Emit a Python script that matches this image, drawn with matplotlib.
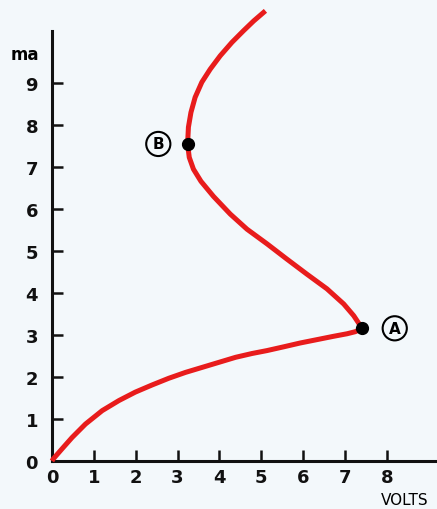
import matplotlib
matplotlib.use("Agg")
import matplotlib.pyplot as plt

# Data (volts, milliamps)
volts = [0.0, 0.03, 0.24, 0.48, 0.80, 1.20, 1.60, 1.99, 2.39, 2.79, 3.19, 3.59,
         3.99, 4.39, 4.78, 5.14, 5.54, 5.93, 6.33, 6.73, 7.05, 7.25, 7.41,
         7.37, 7.21, 6.97, 6.57, 6.09, 5.61, 5.14, 4.66, 4.26, 3.86, 3.56,
         3.38, 3.28, 3.24, 3.26, 3.32, 3.42, 3.58, 3.78, 4.02, 4.30, 4.58,
         4.82, 5.10]
milliamps = [0.0, 0.05, 0.29, 0.56, 0.88, 1.20, 1.44, 1.64, 1.81, 1.97, 2.11, 2.23,
             2.35, 2.47, 2.56, 2.63, 2.72, 2.81, 2.89, 2.97, 3.03, 3.08, 3.16,
             3.22, 3.46, 3.74, 4.10, 4.45, 4.81, 5.17, 5.52, 5.88, 6.30, 6.66,
             6.95, 7.23, 7.55, 7.95, 8.30, 8.66, 9.02, 9.33, 9.65, 9.97, 10.25,
             10.48, 10.72]
point_a = (7.41, 3.16)
point_b = (3.24, 7.55)
x_ticks = [0, 1, 2, 3, 4, 5, 6, 7, 8]
y_ticks = [0, 1, 2, 3, 4, 5, 6, 7, 8, 9]

bg = '#f3f8fb'
fig = plt.figure(figsize=(4.37, 5.10), dpi=100, facecolor=bg)
ax = fig.add_axes([52/437, 48/510, 385/437, 430/510])
ax.set_facecolor(bg)
ax.set_xlim(0, 9.2)
ax.set_ylim(0, 10.24)

for s in ['top', 'right']:
    ax.spines[s].set_visible(False)
for s in ['left', 'bottom']:
    ax.spines[s].set_linewidth(2.2)
    ax.spines[s].set_color('#111111')

ax.set_xticks(x_ticks)
ax.set_yticks(y_ticks)
ax.set_xticklabels([str(v) for v in x_ticks], fontsize=13, fontweight='bold')
ax.set_yticklabels([str(v) for v in y_ticks], fontsize=13, fontweight='bold')
ax.tick_params(axis='x', direction='in', length=8, width=1.8, pad=5, colors='#111111')
ax.tick_params(axis='y', direction='in', length=8, width=1.8, pad=10, colors='#111111')

ax.plot(volts, milliamps, color='#e81c1c', lw=3.6, clip_on=False,
        solid_capstyle='butt', solid_joinstyle='round', zorder=3)
ax.plot([point_a[0], point_b[0]], [point_a[1], point_b[1]], 'o', color='black',
        markersize=8.5, clip_on=False, zorder=4)

circ = dict(boxstyle='circle,pad=0.3', fc='none', ec='black', lw=1.5)
ax.text(point_a[0] + 0.78, point_a[1], 'A', ha='center', va='center', fontsize=11,
        fontweight='semibold', bbox=circ)
ax.text(point_b[0] - 0.7, point_b[1], 'B', ha='center', va='center', fontsize=11,
        fontweight='semibold', bbox=circ)

fig.text(25/437, 1 - 55/510, 'ma', ha='center', va='center', fontsize=12, fontweight='bold')
fig.text(405/437, 1 - 501/510, 'VOLTS', ha='center', va='center', fontsize=11)

fig.savefig('out.png', dpi=100, facecolor=bg)
